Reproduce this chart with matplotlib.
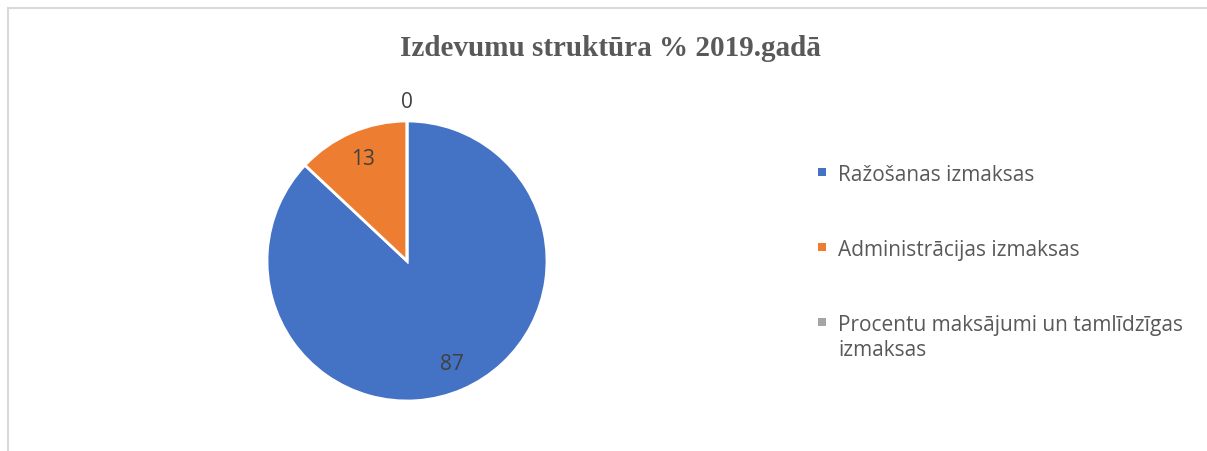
import matplotlib
matplotlib.use("Agg")
import matplotlib.pyplot as plt
from matplotlib.lines import Line2D
from matplotlib.patches import Rectangle
import numpy as np

# data
categories = ["Ražošanas izmaksas", "Administrācijas izmaksas",
              "Procentu maksājumi un tamlīdzīgas\nizmaksas"]
values = [87, 13, 0]
colors = ["#4472C4", "#ED7D31", "#A5A5A5"]
title = "Izdevumu struktūra % 2019.gadā"

W, H = 1207, 452
fig = plt.figure(figsize=(W / 100, H / 100), dpi=100)

# pie axes: centre (407, 262) px from top-left, radius 140 px
cx, cy, r = 407, 262, 140
ax = fig.add_axes([(cx - r) / W, (H - cy - r) / H, 2 * r / W, 2 * r / H])
wedges, texts = ax.pie(values, colors=colors, startangle=90, counterclock=False,
                       radius=1, labels=[str(v) for v in values], labeldistance=0.8,
                       wedgeprops=dict(edgecolor="white", linewidth=2),
                       textprops=dict(fontsize=15, color="#404040", family="Open Sans"))
ax.set_xlim(-1, 1)
ax.set_ylim(-1, 1)
ax.set_aspect("equal")

# zero-sized slice: label goes outside the pie
for w, t, v in zip(wedges, texts, values):
    t.set_ha("center")
    t.set_va("center")
    if v == 0:
        ang = np.deg2rad((w.theta1 + w.theta2) / 2)
        t.set_position((1.14 * np.cos(ang), 1.14 * np.sin(ang)))

fig.text(610 / W, 1 - 49 / H, title, ha="center", va="center", fontsize=21,
         fontweight="bold", family="Liberation Serif", color="#595959")

# legend drawn by hand so the marker sits on the first line of a wrapped label
x0, y0, step, sq = 822, 173, 75, 8
for i, (lab, col) in enumerate(zip(categories, colors)):
    y = y0 + i * step
    fig.add_artist(Rectangle(((x0 - sq / 2) / W, 1 - (y + sq / 2) / H), sq / W, sq / H,
                             facecolor=col, edgecolor="none", transform=fig.transFigure))
    fig.text((x0 + 16) / W, 1 - (y - 8) / H, lab, ha="left", va="top",
             family="Open Sans", fontsize=15, color="#595959", linespacing=1.25)

# chart area border (left and top edges visible)
fig.add_artist(Line2D([8 / W, 8 / W], [0, 1 - 9 / H], color="#D9D9D9", lw=1.5,
                      transform=fig.transFigure))
fig.add_artist(Line2D([8 / W, 1], [1 - 9 / H, 1 - 9 / H], color="#D9D9D9", lw=1.5,
                      transform=fig.transFigure))

fig.savefig("out.png", dpi=100)
